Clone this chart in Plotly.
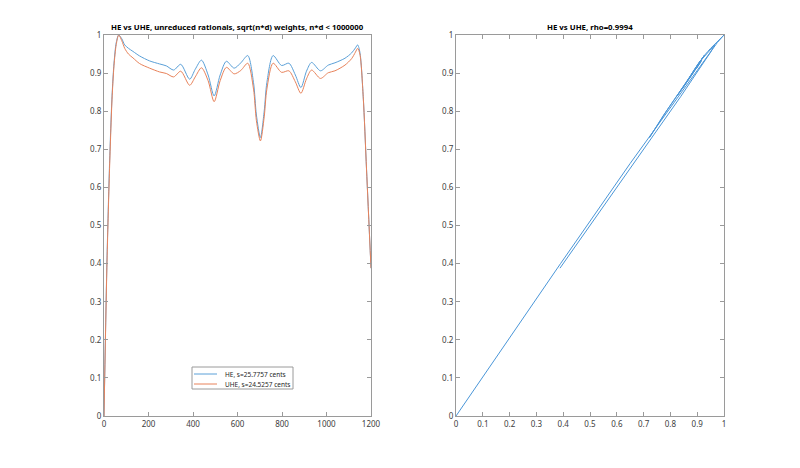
import plotly.graph_objects as go

# curvas (cents vs valor normalizado)
cents = [0, 13, 25, 36, 45, 55, 66, 80, 93, 110, 130, 160, 205, 250, 280, 313,
         345, 385, 410, 438, 468, 495, 522, 550, 585, 615, 646, 672, 685, 703,
         720, 732, 760, 798, 831, 860, 885, 910, 933, 973, 1008, 1038, 1083,
         1113, 1130, 1140, 1150, 1165, 1180, 1200]

he = [0, 0.40, 0.663, 0.838, 0.926, 0.98, 1.0, 0.99, 0.974, 0.965, 0.957,
      0.945, 0.932, 0.924, 0.919, 0.908, 0.923, 0.884, 0.91, 0.934, 0.895,
      0.840, 0.895, 0.931, 0.913, 0.927, 0.946, 0.875, 0.79, 0.731, 0.80,
      0.875, 0.946, 0.920, 0.926, 0.895, 0.862, 0.905, 0.928, 0.906, 0.921,
      0.927, 0.939, 0.953, 0.966, 0.974, 0.955, 0.838, 0.646, 0.388]

uhe = [0, 0.39, 0.65, 0.83, 0.92, 0.975, 1.0, 0.985, 0.965, 0.950, 0.940,
       0.925, 0.913, 0.903, 0.899, 0.890, 0.905, 0.868, 0.89, 0.914, 0.880,
       0.825, 0.880, 0.915, 0.898, 0.907, 0.926, 0.858, 0.775, 0.722, 0.785,
       0.858, 0.926, 0.902, 0.906, 0.877, 0.847, 0.885, 0.908, 0.886, 0.901,
       0.906, 0.921, 0.938, 0.955, 0.965, 0.950, 0.838, 0.646, 0.388]

he_name = 'HE, s=25.7757 cents'
uhe_name = 'UHE, s=24.5257 cents'
title_left = '<b>HE vs UHE, unreduced rationals, sqrt(n*d) weights, n*d < 1000000</b>'
title_right = '<b>HE vs UHE, rho=0.9994</b>'

W, H = 800, 468
OFF = 8  # margen del body de la pagina
font = 'Noto Sans'
c_he = '#5aa0d8'
c_uhe = '#e8825a'
gris = '#9a9a9a'


def px(x):
    return (x - OFF) / W


def py(y):
    return 1 - (y - OFF) / H


fig = go.Figure()
fig.add_trace(go.Scatter(x=cents, y=he, mode='lines', name=he_name,
                         line=dict(color=c_he, width=1, shape='spline', smoothing=0.8),
                         xaxis='x', yaxis='y'))
fig.add_trace(go.Scatter(x=cents, y=uhe, mode='lines', name=uhe_name,
                         line=dict(color=c_uhe, width=1, shape='spline', smoothing=0.8),
                         xaxis='x', yaxis='y'))
fig.add_trace(go.Scatter(x=uhe, y=he, mode='lines', showlegend=False,
                         line=dict(color='#4a96d8', width=1),
                         xaxis='x2', yaxis='y2'))

eje = dict(showline=True, linecolor=gris, linewidth=1, mirror='ticks',
           ticks='inside', ticklen=4, tickcolor=gris, showgrid=False,
           zeroline=False, automargin=False,
           tickfont=dict(family=font, size=8, color='#404040'))

ydom = [py(416), py(35)]
fig.update_layout(
    width=W, height=H,
    margin=dict(l=0, r=0, t=0, b=0, autoexpand=False),
    paper_bgcolor='white', plot_bgcolor='white',
    xaxis=dict(eje, domain=[px(104), px(371)], range=[0, 1200], dtick=200, anchor='y'),
    yaxis=dict(eje, domain=ydom, range=[0, 1], dtick=0.1, anchor='x'),
    xaxis2=dict(eje, domain=[px(456), px(724)], range=[0, 1], dtick=0.1, anchor='y2'),
    yaxis2=dict(eje, domain=ydom, range=[0, 1], dtick=0.1, anchor='x2'),
    showlegend=False,
)

# leyenda dibujada a mano, al estilo matlab
fig.add_shape(type='rect', xref='paper', yref='paper',
              x0=px(192), x1=px(293), y0=py(389), y1=py(367),
              line=dict(color=gris, width=1), fillcolor='white')
for i, (nombre, color) in enumerate([(he_name, c_he), (uhe_name, c_uhe)]):
    yy = py(374 + 10 * i)
    fig.add_shape(type='line', xref='paper', yref='paper',
                  x0=px(194), x1=px(217), y0=yy, y1=yy,
                  line=dict(color=color, width=1))
    fig.add_annotation(text=nombre, x=px(223), y=yy, xref='paper', yref='paper',
                       xanchor='left', yanchor='middle', showarrow=False,
                       font=dict(family=font, size=6.5, color='#262626'))

fig.add_annotation(text=title_left, x=px(237.5), y=py(27), xref='paper', yref='paper',
                   xanchor='center', yanchor='middle', showarrow=False,
                   font=dict(family=font, size=7.8, color='black'))
fig.add_annotation(text=title_right, x=px(590), y=py(27), xref='paper', yref='paper',
                   xanchor='center', yanchor='middle', showarrow=False,
                   font=dict(family=font, size=7.8, color='black'))

fig.write_html('out.html')
